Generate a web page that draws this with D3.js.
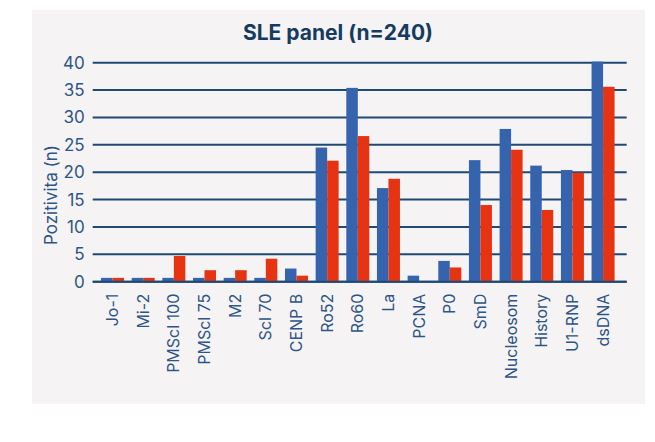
<!DOCTYPE html>
<html><head><meta charset="utf-8">
<script src="https://cdn.jsdelivr.net/npm/d3@7"></script>
<style>body{margin:0;background:#fff;}svg{display:block;}</style>
</head><body>
<svg id="c" width="655" height="442"></svg>
<script>
const categories = ["Jo-1","Mi-2","PMScl 100","PMScl 75","M2","Scl 70","CENP B","Ro52","Ro60","La","PCNA","P0","SmD","Nucleosom","History","U1-RNP","dsDNA"];
const seriesBlue = [0.7,0.7,0.7,0.7,0.7,0.7,2.4,24.5,35.4,17.1,1.1,3.8,22.2,27.9,21.2,20.4,40.2];
const seriesRed  = [0.7,0.7,4.7,2.1,2.1,4.2,1.1,22.1,26.6,18.8,0,2.6,14.0,24.1,13.1,19.9,35.6];
const yTicks = [0,5,10,15,20,25,30,35,40];
const title = "SLE panel (n=240)";
const yLabel = "Pozitivita (n)";

const svg = d3.select("#c");
const font = "Inter, 'Open Sans', sans-serif";
svg.append("rect").attr("x",32).attr("y",10).attr("width",613).attr("height",394).attr("fill","#f5f3f4");

const y = d3.scaleLinear().domain([0,40]).range([281.7,62.7]);
const x = d3.scaleBand().domain(categories).range([97.2,618.4]).paddingInner(0.25).paddingOuter(0.125);
const xs = d3.scaleBand().domain(["b","r"]).range([0,x.bandwidth()]);

// gridlines
svg.append("g").selectAll("line").data(yTicks).join("line")
  .attr("x1",92.7).attr("x2",626.7)
  .attr("y1",d=>y(d)).attr("y2",d=>y(d))
  .attr("stroke","#1f4a75").attr("stroke-width",2);

// y labels via axis
const ya = svg.append("g").attr("transform","translate(92.7,0)")
  .call(d3.axisLeft(y).tickValues(yTicks).tickSize(0).tickPadding(8));
ya.select(".domain").remove();
ya.selectAll("text").attr("font-family",font).attr("font-size",17).attr("fill","#2d5586");

// bars
const g = svg.append("g");
categories.forEach((c,i)=>{
  g.append("rect").attr("x",x(c)+xs("b")).attr("width",xs.bandwidth())
    .attr("y",y(seriesBlue[i])).attr("height",y(0)-y(seriesBlue[i])).attr("fill","#3563ae");
  g.append("rect").attr("x",x(c)+xs("r")).attr("width",xs.bandwidth())
    .attr("y",y(seriesRed[i])).attr("height",y(0)-y(seriesRed[i])).attr("fill","#e63312");
});

// baseline redraw over bars
svg.append("line").attr("x1",92.7).attr("x2",626.7).attr("y1",y(0)).attr("y2",y(0))
  .attr("stroke","#1f4a75").attr("stroke-width",2);

// x labels
const xa = svg.append("g").attr("transform",`translate(0,${y(0)})`)
  .call(d3.axisBottom(x).tickSize(0).tickPadding(0));
xa.select(".domain").remove();
xa.selectAll("text")
  .attr("font-family",font).attr("font-size",16).attr("fill","#2d5586")
  .attr("transform","rotate(-90)").attr("text-anchor","end")
  .attr("x",-12).attr("y",0).attr("dy","0.35em");

svg.append("text").attr("x",338).attr("y",40).attr("text-anchor","middle")
  .attr("font-family",font).attr("font-weight","bold").attr("font-size",21)
  .attr("fill","#163b60").text(title);

svg.append("text").attr("transform","translate(57,195) rotate(-90)").attr("text-anchor","middle")
  .attr("font-family",font).attr("font-size",17).attr("fill","#2d5586").text(yLabel);
</script>
</body></html>
